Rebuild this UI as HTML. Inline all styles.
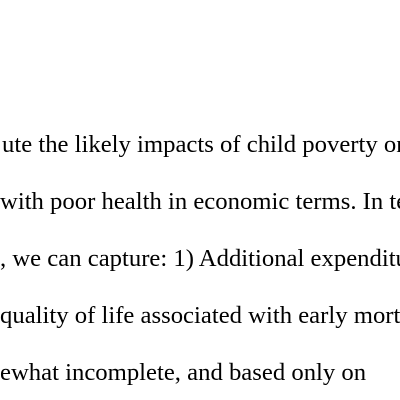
<!DOCTYPE html>
<html><head><meta charset="utf-8"><style>
html,body{margin:0;padding:0;background:#fff;width:400px;height:400px;overflow:hidden}
#page{position:relative;width:400px;height:400px;overflow:hidden}
.l{position:absolute;white-space:nowrap;font-family:"Liberation Serif",serif;font-size:24.7px;color:#000;line-height:1}
</style></head><body>
<div id="page">
<div class="l" style="left:2px;top:133px">ute the likely impacts of child poverty on</div>
<div class="l" style="left:0px;top:190px">with poor health in economic terms. In terms</div>
<div class="l" style="left:0px;top:247px">, we can capture: 1) Additional expenditure</div>
<div class="l" style="left:0px;top:304px">quality of life associated with early mortality</div>
<div class="l" style="left:0px;top:361px">ewhat incomplete, and based only on</div>
</div>
</body></html>
